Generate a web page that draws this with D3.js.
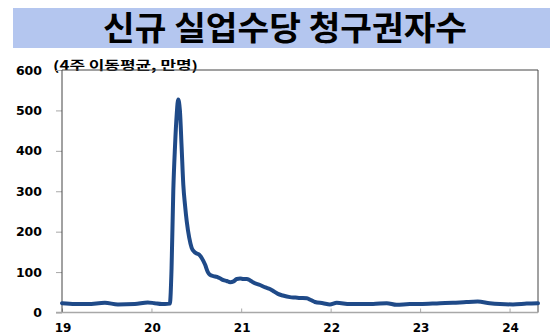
<!DOCTYPE html>
<html>
<head>
<meta charset="utf-8">
<script src="https://cdn.jsdelivr.net/npm/d3@7/dist/d3.min.js"></script>
<style>
  html, body { margin: 0; padding: 0; background: #fff; }
  svg { display: block; }
</style>
</head>
<body>
<svg id="chart" width="550" height="335"></svg>
<script>
// Initial jobless claims, 4-week moving average (unit: 10,000 persons)
const title = "신규 실업수당 청구권자수";
const unitLabel = "(4주 이동평균, 만명)";

const weekDates = [
  "2019-01-01","2019-02-23","2019-04-16","2019-06-25","2019-08-17","2019-10-25",
  "2019-12-17","2020-01-14","2020-02-12","2020-02-25","2020-03-16","2020-03-23",
  "2020-03-30","2020-04-06","2020-04-13","2020-04-19","2020-04-26","2020-05-03",
  "2020-05-10","2020-05-17","2020-05-24","2020-06-03","2020-06-13","2020-06-24",
  "2020-07-03","2020-07-14","2020-07-24","2020-08-07","2020-08-18","2020-08-27",
  "2020-09-10","2020-09-24","2020-10-08","2020-10-21","2020-11-03","2020-11-17",
  "2020-12-01","2020-12-14","2020-12-28","2021-01-10","2021-01-24","2021-02-05",
  "2021-02-20","2021-03-19","2021-04-10","2021-04-28","2021-05-15","2021-05-31",
  "2021-06-20","2021-07-19","2021-08-10","2021-08-29","2021-09-26","2021-10-12",
  "2021-10-29","2021-12-01","2021-12-29","2022-01-26","2022-03-21","2022-06-23",
  "2022-08-18","2022-09-27","2022-11-20","2023-01-01","2023-03-23","2023-05-15",
  "2023-07-09","2023-08-24","2023-10-12","2023-11-23","2024-01-15","2024-03-11",
  "2024-04-26"
];

const claims = [
  23, 21, 21, 24, 20, 21,
  25, 23, 21, 21, 22, 110,
  300, 410, 490, 527, 500, 410,
  315, 265, 225, 185, 160, 150,
  146, 143, 135, 118, 100, 93,
  90, 88, 84, 80, 78, 75,
  77, 83, 84, 83, 83, 80,
  74, 68, 62, 58, 52, 46,
  42, 38, 37, 36, 35, 31,
  26, 23, 20, 24, 21, 21,
  23, 19, 21, 21, 23, 24,
  26, 27, 23, 21, 20, 22,
  23
];

const yTicks = [0, 100, 200, 300, 400, 500, 600];
const xTickDates = ["2019-01-01","2020-01-01","2021-01-01","2022-01-01","2023-01-01","2024-01-01"];
const xTickLabels = ["19","20","21","22","23","24"];

const parse = d3.timeParse("%Y-%m-%d");
const data = weekDates.map((d, i) => ({ date: parse(d), value: claims[i] }));

const svg = d3.select("#chart");
const plot = { left: 62, right: 538, top: 70, bottom: 312.5 };

const x = d3.scaleTime()
  .domain([parse("2019-01-01"), parse(weekDates[weekDates.length - 1])])
  .range([plot.left, plot.right]);
const y = d3.scaleLinear().domain([0, 600]).range([plot.bottom, plot.top]);

// Title banner
svg.append("rect")
  .attr("x", 13).attr("y", 8).attr("width", 537).attr("height", 40)
  .attr("fill", "#b4c6ef");
svg.append("text")
  .attr("x", 285).attr("y", 40)
  .attr("text-anchor", "middle")
  .attr("font-family", "'Noto Sans CJK KR', sans-serif")
  .attr("font-weight", 700)
  .attr("font-size", 33)
  .attr("textLength", 364)
  .attr("lengthAdjust", "spacingAndGlyphs")
  .attr("fill", "#000")
  .text(title);

// Unit label
svg.append("text")
  .attr("x", 53).attr("y", 70)
  .attr("font-family", "'Noto Sans CJK KR', sans-serif")
  .attr("font-weight", 700)
  .attr("font-size", 12.5)
  .attr("textLength", 145)
  .attr("lengthAdjust", "spacingAndGlyphs")
  .attr("fill", "#000")
  .text(unitLabel);

// Y axis
const yAxis = d3.axisLeft(y).tickValues(yTicks).tickSize(6).tickFormat("");
const gy = svg.append("g").attr("transform", `translate(${plot.left},0)`).call(yAxis);
gy.select(".domain").remove();
gy.selectAll(".tick line").attr("stroke", "#a8a8a8");
svg.append("g").selectAll("text")
  .data(yTicks).join("text")
  .attr("x", 42)
  .attr("y", d => y(d) + 4.5)
  .attr("text-anchor", "end")
  .attr("font-family", "'DejaVu Sans', sans-serif")
  .attr("font-weight", 700)
  .attr("font-size", 12.5)
  .attr("fill", "#000")
  .text(d => d);

// X axis (ticks point inward)
const xAxis = d3.axisBottom(x)
  .tickValues(xTickDates.map(parse))
  .tickSizeInner(-4).tickSizeOuter(0)
  .tickFormat("");
const gx = svg.append("g").attr("transform", `translate(0,${plot.bottom})`).call(xAxis);
gx.select(".domain").remove();
gx.selectAll(".tick line").attr("stroke", "#a8a8a8");
svg.append("g").selectAll("text")
  .data(xTickDates).join("text")
  .attr("x", d => x(parse(d)) + 1)
  .attr("y", 332)
  .attr("text-anchor", "middle")
  .attr("font-family", "'DejaVu Sans', sans-serif")
  .attr("font-weight", 700)
  .attr("font-size", 12)
  .attr("fill", "#000")
  .text((d, i) => xTickLabels[i]);

// Plot frame: left, top, right in dark grey, baseline in light grey
svg.append("path")
  .attr("d", `M${plot.left},${plot.bottom}V${plot.top}H${plot.right}V${plot.bottom}`)
  .attr("fill", "none")
  .attr("stroke", "#444")
  .attr("stroke-width", 1);
svg.append("line")
  .attr("x1", 56).attr("x2", plot.right)
  .attr("y1", plot.bottom).attr("y2", plot.bottom)
  .attr("stroke", "#a8a8a8")
  .attr("stroke-width", 1.5);

// Claims line
const line = d3.line()
  .x(d => x(d.date))
  .y(d => y(d.value))
  .curve(d3.curveMonotoneX);
svg.append("path")
  .datum(data)
  .attr("d", line)
  .attr("fill", "none")
  .attr("stroke", "#1f4a88")
  .attr("stroke-width", 4)
  .attr("stroke-linejoin", "round")
  .attr("stroke-linecap", "round");
</script>
</body>
</html>
